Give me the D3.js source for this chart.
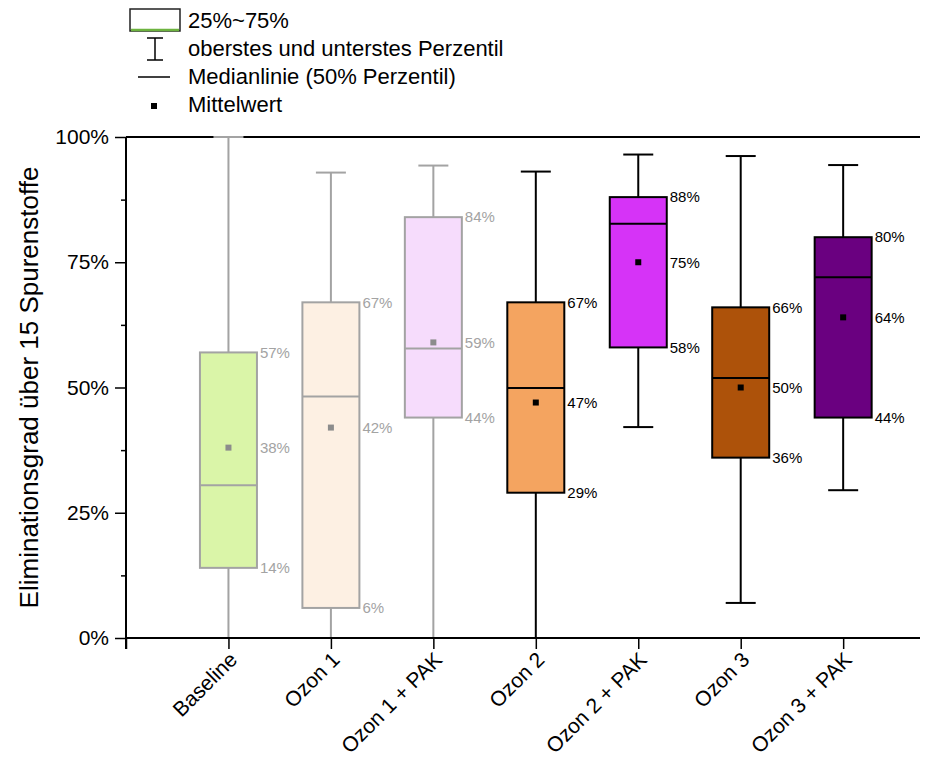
<!DOCTYPE html>
<html>
<head>
<meta charset="utf-8">
<script src="https://cdn.jsdelivr.net/npm/d3@7"></script>
<style>
  html, body { margin: 0; padding: 0; background: #fff; }
  svg { display: block; font-family: "Liberation Sans", Arial, sans-serif; }
</style>
</head>
<body>
<svg id="chart" width="934" height="763"></svg>
<script>
// Box plot statistics per treatment (percent elimination)
const categories = ["Baseline", "Ozon 1", "Ozon 1 + PAK", "Ozon 2", "Ozon 2 + PAK", "Ozon 3", "Ozon 3 + PAK"];
const whiskerMin = [0, 0, 0, 0, 42.1, 7.0, 29.5];
const q1Values   = [14, 6, 44, 29, 58, 36, 44];
const medians    = [30.5, 48.2, 57.8, 49.9, 82.7, 51.9, 72.0];
const means      = [38, 42, 59, 47, 75, 50, 64];
const q3Values   = [57, 67, 84, 67, 88, 66, 80];
const whiskerMax = [100, 92.9, 94.3, 93.1, 96.5, 96.2, 94.4];
const fillColors = ["#daf5a8", "#fdf0e3", "#f6dcfc", "#f4a460", "#d633f7", "#ad520a", "#6a0080"];
const lineColors = ["#a3a3a3", "#a3a3a3", "#a3a3a3", "#000000", "#000000", "#000000", "#000000"];
const yTicks = [0, 25, 50, 75, 100];
const yMinorTicks = [12.5, 37.5, 62.5, 87.5];

const svg = d3.select("#chart");
const x = d3.scaleLinear().domain([0, 7.75]).range([126, 920]);
const y = d3.scaleLinear().domain([0, 100]).range([638, 137]);
const boxW = 57, capW = 30;
const fmt = v => Math.round(v) + "%";

// Minor y ticks
svg.append("g")
  .attr("transform", `translate(${x(0)},0)`)
  .call(d3.axisLeft(y).tickValues(yMinorTicks).tickSize(5).tickFormat(""))
  .call(g => g.select(".domain").remove())
  .selectAll("line").attr("stroke", "#000").attr("stroke-width", 1.5);

// Major y ticks + labels
svg.append("g")
  .attr("transform", `translate(${x(0)},0)`)
  .call(d3.axisLeft(y).tickValues(yTicks).tickSize(11).tickPadding(6).tickFormat(d => d + "%"))
  .call(g => g.select(".domain").remove())
  .call(g => g.selectAll("line").attr("stroke", "#000").attr("stroke-width", 1.5))
  .call(g => g.selectAll("text").attr("font-size", 21).attr("fill", "#000")
    .attr("font-family", "'Liberation Sans', Arial, sans-serif"));

// Y axis line and top frame line
svg.append("line").attr("x1", x(0)).attr("x2", x(0)).attr("y1", y(100)).attr("y2", y(0) + 11)
  .attr("stroke", "#000").attr("stroke-width", 2);
svg.append("line").attr("x1", x(0)).attr("x2", x(7.75)).attr("y1", y(100)).attr("y2", y(100))
  .attr("stroke", "#000").attr("stroke-width", 2);

// Boxes
const idx = d3.range(categories.length);
const g = svg.append("g");
idx.forEach(i => {
  const cx = x(i + 1), col = lineColors[i];
  // whisker
  g.append("line").attr("x1", cx).attr("x2", cx).attr("y1", y(whiskerMax[i])).attr("y2", y(whiskerMin[i]))
    .attr("stroke", col).attr("stroke-width", 2);
  [whiskerMax[i], whiskerMin[i]].forEach(v => {
    g.append("line").attr("x1", cx - capW / 2).attr("x2", cx + capW / 2).attr("y1", y(v)).attr("y2", y(v))
      .attr("stroke", col).attr("stroke-width", 2);
  });
  // box
  g.append("rect").attr("x", cx - boxW / 2).attr("y", y(q3Values[i]))
    .attr("width", boxW).attr("height", y(q1Values[i]) - y(q3Values[i]))
    .attr("fill", fillColors[i]).attr("stroke", col).attr("stroke-width", 2);
  // median
  g.append("line").attr("x1", cx - boxW / 2).attr("x2", cx + boxW / 2)
    .attr("y1", y(medians[i])).attr("y2", y(medians[i]))
    .attr("stroke", col).attr("stroke-width", 2);
  // mean
  g.append("rect").attr("x", cx - 3).attr("y", y(means[i]) - 3).attr("width", 6).attr("height", 6)
    .attr("fill", col === "#000000" ? "#000" : "#8c8c8c");
  // value labels
  [q3Values[i], means[i], q1Values[i]].forEach(v => {
    g.append("text").attr("x", cx + boxW / 2 + 3).attr("y", y(v)).attr("dy", "0.35em")
      .attr("font-size", 15).attr("fill", col === "#000000" ? "#000" : "#a3a3a3").text(fmt(v));
  });
});

// X axis (drawn on top of bottom whisker caps)
svg.append("g")
  .attr("transform", `translate(0,${y(0)})`)
  .call(d3.axisBottom(x).tickValues(d3.range(0, 8)).tickSize(11).tickFormat(""))
  .call(g => g.select(".domain").remove())
  .call(g => g.selectAll("line").attr("stroke", "#000").attr("stroke-width", 1.5));
svg.append("line").attr("x1", x(0)).attr("x2", x(7.75)).attr("y1", y(0)).attr("y2", y(0))
  .attr("stroke", "#000").attr("stroke-width", 2);

// Rotated category labels
svg.append("g").selectAll("text").data(categories).join("text")
  .attr("transform", (d, i) => `translate(${x(i + 1) + 10},${y(0) + 23}) rotate(-45)`)
  .attr("text-anchor", "end").attr("font-size", 21).attr("fill", "#000")
  .text(d => d);

// Y axis title
svg.append("text")
  .attr("transform", `translate(38,${(y(0) + y(100)) / 2}) rotate(-90)`)
  .attr("text-anchor", "middle").attr("font-size", 26).attr("fill", "#000")
  .text("Eliminationsgrad über 15 Spurenstoffe");

// Legend
const lg = svg.append("g");
lg.append("rect").attr("x", 130).attr("y", 9).attr("width", 50).attr("height", 22)
  .attr("fill", "#fff").attr("stroke", "#222").attr("stroke-width", 1.5);
lg.append("line").attr("x1", 131).attr("x2", 179).attr("y1", 30).attr("y2", 30)
  .attr("stroke", "#6db33f").attr("stroke-width", 2.5);
lg.append("line").attr("x1", 155).attr("x2", 155).attr("y1", 38).attr("y2", 60).attr("stroke", "#000").attr("stroke-width", 1.5);
lg.append("line").attr("x1", 147).attr("x2", 163).attr("y1", 38).attr("y2", 38).attr("stroke", "#000").attr("stroke-width", 1.5);
lg.append("line").attr("x1", 147).attr("x2", 163).attr("y1", 60).attr("y2", 60).attr("stroke", "#000").attr("stroke-width", 1.5);
lg.append("line").attr("x1", 138).attr("x2", 170).attr("y1", 77).attr("y2", 77).attr("stroke", "#000").attr("stroke-width", 1.5);
lg.append("rect").attr("x", 151).attr("y", 103).attr("width", 6).attr("height", 6).attr("fill", "#000");
const legendTexts = ["25%~75%", "oberstes und unterstes Perzentil", "Medianlinie (50% Perzentil)", "Mittelwert"];
const legendY = [28, 56, 84, 112];
lg.selectAll("text.lt").data(legendTexts).join("text").attr("class", "lt")
  .attr("x", 188).attr("y", (d, i) => legendY[i]).attr("font-size", 22).attr("fill", "#000").text(d => d);
</script>
</body>
</html>
